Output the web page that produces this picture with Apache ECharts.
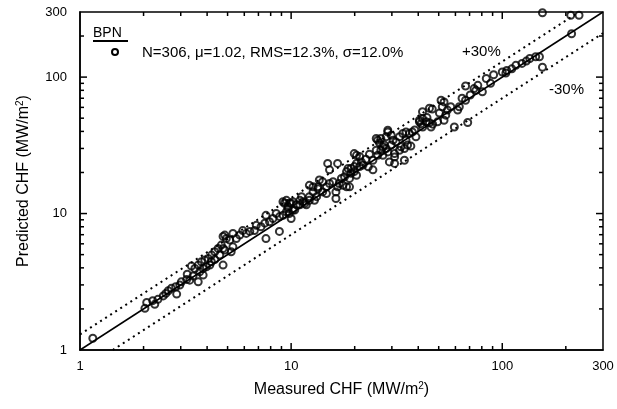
<!DOCTYPE html>
<html>
<head>
<meta charset="utf-8">
<script src="https://cdn.jsdelivr.net/npm/echarts@6/dist/echarts.min.js"></script>
<style>
  html, body { margin:0; padding:0; background:#fff; }
  #chart { width:617px; height:409px; }
</style>
</head>
<body>
<div id="chart"></div>
<script>
// measured CHF (MW/m2)
var measured = [1.15,2.03,2.07,2.21,2.26,2.34,2.48,2.55,2.62,2.71,2.84,2.87,2.97,3.02,3.20,3.22,3.31,3.37,3.43,3.50,
  3.63,3.63,3.69,3.76,3.83,3.83,3.90,3.97,4.05,4.12,4.19,4.20,4.35,4.35,4.51,4.59,4.67,4.76,4.76,4.76,
  4.85,4.85,4.93,5.12,5.20,5.30,5.30,5.50,5.71,5.90,6.13,6.37,6.70,6.84,7.20,7.50,7.60,7.60,7.90,8.20,
  8.50,8.80,8.82,9.16,9.15,9.30,9.50,9.50,9.65,9.66,9.80,9.84,10.0,10.0,10.2,10.2,10.4,10.6,11.0,11.0,
  11.2,11.4,11.6,11.8,12.2,12.2,12.2,12.7,12.7,12.9,13.2,13.4,13.4,13.6,14.1,14.1,14.7,14.7,14.9,15.2,
  15.2,15.8,16.3,16.3,16.6,16.6,16.9,17.3,17.6,17.9,18.3,18.3,18.6,18.9,18.9,19.2,19.2,19.9,19.9,19.9,
  20.4,20.4,20.4,21.1,21.1,21.5,21.9,22.6,23.2,23.5,24.4,24.4,25.3,25.3,25.7,25.7,26.2,26.6,26.6,27.2,
  27.2,27.6,28.2,28.2,28.7,28.7,28.7,29.2,29.8,29.8,30.4,30.9,30.9,30.9,31.4,32.6,32.6,33.1,33.8,34.4,
  34.4,35.0,35.0,35.6,36.3,36.9,37.5,38.5,39.0,40.5,40.5,41.2,41.9,41.9,42.0,43.6,44.0,45.2,45.2,46.0,
  46.6,46.8,49.4,50.4,51.3,52.0,53.0,53.0,54.0,55.0,57.0,59.3,61.5,62.6,64.5,67.0,67.0,68.6,70.5,73.5,
  75.0,76.6,80.5,84.0,88.0,91.0,100,104,105,111,116,124,130,135,144,150,155,155,211,213,231];
// predicted CHF (MW/m2)
var predicted = [1.22,2.02,2.23,2.30,2.16,2.35,2.49,2.60,2.72,2.83,2.91,2.57,2.99,3.16,3.29,3.59,3.25,4.12,3.48,3.96,
  3.16,4.19,3.74,4.43,3.54,3.96,4.56,4.07,4.69,4.19,4.43,4.96,4.60,5.25,5.55,4.96,5.87,4.19,5.55,6.80,
  5.40,6.95,6.55,6.40,5.25,5.70,7.15,6.55,6.95,7.50,7.15,7.40,7.50,8.20,8.00,8.50,9.70,6.55,8.70,9.20,
  10.0,7.40,9.50,9.70,12.2,11.9,10.3,12.5,11.2,10.9,10.0,11.9,11.9,9.20,10.6,12.2,10.6,11.6,12.5,11.6,
  13.3,12.2,11.9,11.6,13.3,12.5,16.1,15.7,14.4,12.5,13.3,15.2,15.7,17.6,17.1,14.4,15.7,14.0,23.3,16.6,
  20.9,17.1,14.4,12.9,15.7,23.3,16.6,18.1,16.1,18.6,20.3,15.7,21.4,18.1,15.7,21.4,19.7,22.1,20.3,27.5,
  23.3,19.1,26.7,26.2,22.1,23.9,22.7,25.0,22.0,27.2,24.6,20.9,35.5,29.1,26.7,34.5,33.0,35.5,29.1,30.9,
  26.7,31.8,36.6,30.0,40.8,39.6,28.3,23.9,37.5,31.8,34.5,23.3,27.5,26.0,33.5,36.6,29.1,30.9,38.6,30.0,
  24.6,34.5,39.6,31.8,38.6,31.2,39.6,41.0,36.5,47.0,48.3,45.6,49.8,55.8,43.1,47.0,50.5,46.3,59.1,43.1,
  58.3,45.2,47.0,54.5,67.6,60.6,65.8,48.3,52.6,57.3,60.6,43.1,57.3,60.6,70.0,86.0,67.6,46.5,74.0,82.4,
  80.0,87.0,78.0,97.6,90.0,104,109,107,112,115,122,126,131,137,141,141,118,296,284,208,284];

// y = x and +/-30% bands
var parityLine = [[1, 1], [300, 300]];
var upperLine = [[1, 1.3], [230.8, 300]];
var lowerLine = [[1.43, 1], [300, 210]];

// axis labels and tick marks (ticks go on all four sides)
var majorTicks = [1, 10, 100, 300];
var tickValues = [2, 3, 4, 5, 6, 7, 8, 9, 10, 20, 30, 40, 50, 60, 70, 80, 90, 100, 200];

var points = [];
for (var i = 0; i < measured.length; i++) {
    points.push([measured[i], predicted[i]]);
}

var fontName = 'Liberation Sans';

function nameStyle() {
    return {
        rich: {
            t: { fontSize: 16, fontFamily: fontName, color: '#000', lineHeight: 18 },
            s: { fontSize: 10, fontFamily: fontName, color: '#000', verticalAlign: 'top', lineHeight: 10 }
        }
    };
}

function logAxis(labelMargin) {
    return {
        type: 'log',
        min: 1,
        max: 300,
        axisLine: { show: true, lineStyle: { color: '#000', width: 1.5 } },
        axisTick: { show: false },
        axisLabel: {
            customValues: majorTicks,
            color: '#000',
            fontSize: 13,
            fontFamily: fontName,
            margin: labelMargin
        },
        splitLine: { show: false },
        nameLocation: 'middle',
        nameTextStyle: nameStyle()
    };
}

var xAxisOpt = logAxis(10);
xAxisOpt.name = '{t|Measured CHF (MW/m}{s|2}{t|)}';
xAxisOpt.nameGap = 31;

var yAxisOpt = logAxis(13);
yAxisOpt.name = '{t|Predicted CHF (MW/m}{s|2}{t|)}';
yAxisOpt.nameGap = 47;
yAxisOpt.nameRotate = 90;

var annotations = [
    { type: 'text', left: 93, top: 26, style: { text: 'BPN', fontSize: 14, fontFamily: fontName, fill: '#000' } },
    { type: 'line', shape: { x1: 93, y1: 41, x2: 128, y2: 41 }, style: { stroke: '#000', lineWidth: 2 } },
    { type: 'circle', shape: { cx: 115, cy: 52, r: 3 }, style: { fill: 'none', stroke: '#000', lineWidth: 2 } },
    { type: 'text', left: 142, top: 45, style: { text: 'N=306, \u03bc=1.02, RMS=12.3%, \u03c3=12.0%', fontSize: 15, fontFamily: fontName, fill: '#000' } },
    { type: 'text', left: 462, top: 44, style: { text: '+30%', fontSize: 15, fontFamily: fontName, fill: '#000' } },
    { type: 'text', left: 549, top: 82, style: { text: '-30%', fontSize: 15, fontFamily: fontName, fill: '#000' } }
];

var myChart = echarts.init(document.getElementById('chart'));
var option = {
    animation: false,
    grid: {
        left: 80, right: 14, top: 12, bottom: 59,
        show: true,
        borderColor: '#000',
        borderWidth: 1.5
    },
    xAxis: xAxisOpt,
    yAxis: yAxisOpt,
    series: [
        {
            type: 'line',
            data: parityLine,
            symbol: 'none',
            lineStyle: { color: '#000', width: 1.5 }
        },
        {
            type: 'line',
            data: upperLine,
            symbol: 'none',
            lineStyle: { color: '#000', width: 2, type: [2, 4] }
        },
        {
            type: 'line',
            data: lowerLine,
            symbol: 'none',
            lineStyle: { color: '#000', width: 2, type: [2, 4] }
        },
        {
            type: 'scatter',
            data: points,
            symbol: 'circle',
            symbolSize: 7,
            itemStyle: { color: 'rgba(0,0,0,0)', borderColor: '#000', borderWidth: 2 }
        }
    ],
    graphic: annotations
};
myChart.setOption(option);

// tick marks placed through the axis scales once the grid exists
var ticks = [];
function tickLine(x1, y1, x2, y2) {
    return { type: 'line', silent: true, z: 10, shape: { x1: x1, y1: y1, x2: x2, y2: y2 }, style: { stroke: '#000', lineWidth: 1.5 } };
}
tickValues.forEach(function (v) {
    var len = majorTicks.indexOf(v) >= 0 ? 7 : 4;
    var b = myChart.convertToPixel({ gridIndex: 0 }, [v, 1]);
    var t = myChart.convertToPixel({ gridIndex: 0 }, [v, 300]);
    var l = myChart.convertToPixel({ gridIndex: 0 }, [1, v]);
    var r = myChart.convertToPixel({ gridIndex: 0 }, [300, v]);
    ticks.push(tickLine(b[0], b[1], b[0], b[1] - len));
    ticks.push(tickLine(t[0], t[1], t[0], t[1] + len));
    ticks.push(tickLine(l[0], l[1], l[0] + len, l[1]));
    ticks.push(tickLine(r[0], r[1], r[0] - len, r[1]));
});
myChart.setOption({ graphic: annotations.concat(ticks) });
</script>
</body>
</html>
